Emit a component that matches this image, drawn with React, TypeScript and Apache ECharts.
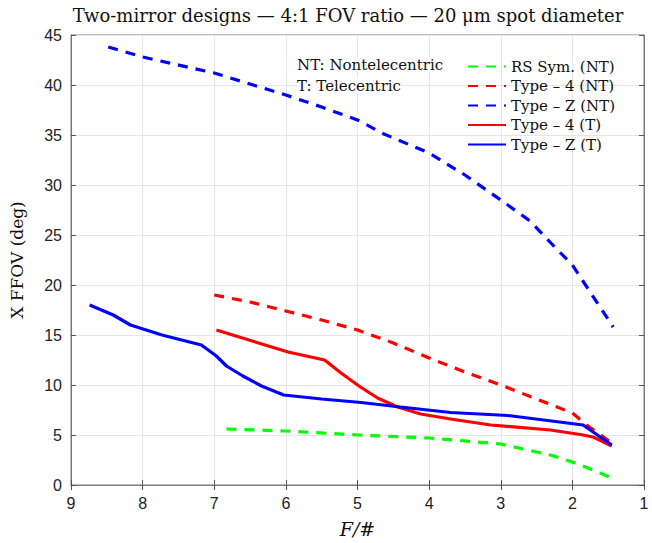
import React, { useEffect, useRef } from "react";
import * as echarts from "echarts";

const xTicks = [9, 8, 7, 6, 5, 4, 3, 2, 1];

const rsSymNT: [number, number][] = [
  [6.83, 5.6], [6, 5.4], [5, 5.0], [4, 4.7], [3.7, 4.53], [3, 4.1], [2.5, 3.3], [2.31, 3.0], [2, 2.3], [1.85, 1.9], [1.45, 0.7],
];
const type4NT: [number, number][] = [
  [7, 19], [6.5, 18.3], [6, 17.4], [5.5, 16.5], [5, 15.5], [4.5, 14.2], [4, 12.7], [3.5, 11.3], [3, 10.0], [2.5, 8.6], [2, 7.2], [1.8, 6.0], [1.45, 4.2],
];
const typeZNT: [number, number][] = [
  [8.48, 43.8], [8, 42.8], [7, 41.2], [6, 39.0], [5.5, 37.8], [5, 36.5], [4.63, 35.1], [4, 33.2], [3.5, 31.0], [3, 28.5], [2.59, 26.4], [2.3, 24.2], [2, 22.0], [1.43, 15.8],
];
const type4T: [number, number][] = [
  [6.97, 15.5], [5.97, 13.3], [5.46, 12.5], [5.23, 11.2], [4.98, 9.9], [4.72, 8.7], [4.44, 7.8], [4.12, 7.1], [3.7, 6.6], [3.14, 6.0], [2.31, 5.5], [1.89, 5.05], [1.71, 4.8], [1.45, 3.9],
];
const typeZT: [number, number][] = [
  [8.74, 18], [8.41, 17], [8.17, 16], [7.73, 15], [7.18, 14], [6.97, 12.9], [6.83, 11.9], [6.6, 10.9], [6.34, 9.9], [6.03, 9.0], [5.5, 8.6], [4.95, 8.25], [4.4, 7.8], [3.7, 7.25], [2.9, 6.95], [1.85, 6.0], [1.45, 4.0],
];

const seriesNames = ["RS Sym. (NT)", "Type \u2013 4 (NT)", "Type \u2013 Z (NT)", "Type \u2013 4 (T)", "Type \u2013 Z (T)"];

const SERIF = "'DejaVu Serif', 'Liberation Serif', serif";
const SANS = "'Liberation Sans', Arial, sans-serif";

export default function App() {
  const ref = useRef<HTMLDivElement>(null);
  useEffect(() => {
    if (!ref.current) return;
    const chart = echarts.init(ref.current, null, { renderer: "svg" });
    const mk = (name: string, data: [number, number][], color: string, dashed: boolean) => ({
      name,
      type: "line",
      data,
      symbol: "none",
      smooth: false,
      xAxisIndex: 0,
      yAxisIndex: 0,
      lineStyle: { color, width: 3.2, type: dashed ? [10, 8] : "solid" },
      itemStyle: { color },
    });
    const grid = { left: 69, right: 8, top: 35, bottom: 51 };
    chart.setOption({
      animation: false,
      backgroundColor: "#fff",
      title: {
        text: "Two-mirror designs \u2014 4:1 FOV ratio \u2014 20 \u03bcm spot diameter",
        left: 343,
        top: 1,
        textAlign: "center",
        textStyle: { fontFamily: SERIF, fontSize: 18, fontWeight: "normal", color: "#111" },
      },
      grid: { ...grid, show: true, borderColor: "#7a7a7a", borderWidth: 1 },
      legend: {
        orient: "vertical",
        left: 462,
        top: 54,
        itemWidth: 38,
        itemHeight: 14,
        itemGap: 4.5,
        itemStyle: { opacity: 0 },
        textStyle: { fontFamily: SERIF, fontSize: 15, color: "#111" },
        data: seriesNames,
      },
      graphic: [
        { type: "text", left: 297, top: 57, z: 10, style: { text: "NT: Nontelecentric", font: `15px ${SERIF}`, fill: "#111", backgroundColor: "#fff" } },
        { type: "text", left: 297, top: 78, z: 10, style: { text: "T: Telecentric", font: `15px ${SERIF}`, fill: "#111", backgroundColor: "#fff" } },
      ],
      xAxis: [
        {
          type: "value",
          min: 1,
          max: 9,
          interval: 1,
          inverse: true,
          name: "F/#",
          nameLocation: "middle",
          nameGap: 34,
          nameTextStyle: { fontFamily: SERIF, fontSize: 19, fontStyle: "italic", color: "#111" },
          axisLine: { show: true, lineStyle: { color: "#7a7a7a" } },
          axisTick: { show: true, inside: true, length: 5, lineStyle: { color: "#555" } },
          axisLabel: { fontFamily: SANS, fontSize: 16, color: "#222", margin: 10 },
          splitLine: { show: true, lineStyle: { color: "#e6e6e6" } },
        },
        {
          type: "value",
          min: 1,
          max: 9,
          interval: 1,
          inverse: true,
          position: "top",
          axisLine: { show: true, lineStyle: { color: "#7a7a7a" } },
          axisTick: { show: true, inside: true, length: 5, lineStyle: { color: "#555" } },
          axisLabel: { show: false },
          splitLine: { show: false },
        },
      ],
      yAxis: [
        {
          type: "value",
          min: 0,
          max: 45,
          interval: 5,
          name: "X FFOV (deg)",
          nameLocation: "middle",
          nameGap: 46,
          nameRotate: 90,
          nameTextStyle: { fontFamily: SERIF, fontSize: 17, color: "#111" },
          axisLine: { show: true, lineStyle: { color: "#7a7a7a" } },
          axisTick: { show: true, inside: true, length: 5, lineStyle: { color: "#555" } },
          axisLabel: { fontFamily: SANS, fontSize: 16, color: "#222", margin: 9 },
          splitLine: { show: true, lineStyle: { color: "#e6e6e6" } },
        },
        {
          type: "value",
          min: 0,
          max: 45,
          interval: 5,
          position: "right",
          axisLine: { show: true, lineStyle: { color: "#7a7a7a" } },
          axisTick: { show: true, inside: true, length: 5, lineStyle: { color: "#555" } },
          axisLabel: { show: false },
          splitLine: { show: false },
        },
      ],
      series: [
        mk(seriesNames[0], rsSymNT, "#00ff00", true),
        mk(seriesNames[1], type4NT, "#ff0000", true),
        mk(seriesNames[2], typeZNT, "#0000ff", true),
        mk(seriesNames[3], type4T, "#ff0000", false),
        mk(seriesNames[4], typeZT, "#0000ff", false),
      ],
    });
    return () => chart.dispose();
  }, []);
  return (
    <div
      ref={ref}
      style={{ position: "absolute", left: 0, top: 0, width: 652, height: 543 }}
    />
  );
}
